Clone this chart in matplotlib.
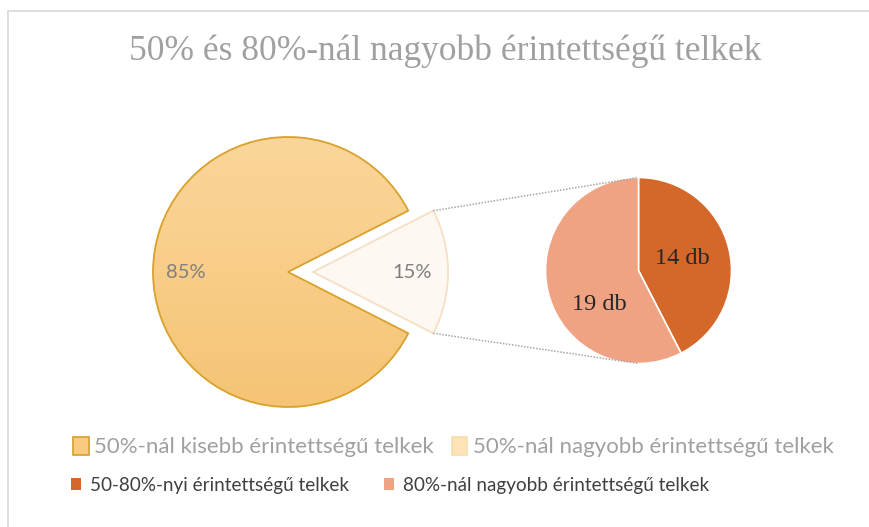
import numpy as np
import matplotlib
matplotlib.use("Agg")
import matplotlib.pyplot as plt
from matplotlib.patches import Patch, Rectangle
from matplotlib.colors import LinearSegmentedColormap

# ---- data ----
title = "50% és 80%-nál nagyobb érintettségű telkek"
main_labels = ["50%-nál kisebb érintettségű telkek", "50%-nál nagyobb érintettségű telkek"]
main_values = [85, 15]
sub_labels = ["50-80%-nyi érintettségű telkek", "80%-nál nagyobb érintettségű telkek"]
sub_values = [14, 19]
sub_unit = "db"

W, H = 869, 527
fig = plt.figure(figsize=(W / 100, H / 100), dpi=100)
ax = fig.add_axes([0, 0, 1, 1])
ax.set_xlim(0, W)
ax.set_ylim(0, H)
ax.set_aspect("equal")
ax.axis("off")

# chart frame
ax.add_patch(Rectangle((8, -5), W, H - 11 + 5, facecolor="white",
                       edgecolor="#D9D9D9", lw=1.2, zorder=0))

# ---- main pie ----
main_center = (288, 255)
main_r = 135
explode_px = 25
other_frac = main_values[1] / sum(main_values)
half = other_frac * 360 / 2
wedges, _ = ax.pie(main_values, radius=main_r, center=main_center,
                   startangle=half, counterclock=True,
                   explode=[0, explode_px],
                   colors=["#F8CC80", "#FDF8F2"],
                   wedgeprops=dict(linewidth=1.3), frame=True)
wedges[0].set_edgecolor("#D9A12C")
wedges[1].set_edgecolor("#F7DFC4")
wedges[0].set_facecolor("none")
wedges[0].set_zorder(3)

# vertical gradient inside the large slice
grad_cmap = LinearSegmentedColormap.from_list("g", ["#F5C475", "#FBD69A"])
grad = np.linspace(0, 1, 256).reshape(-1, 1)
cx, cy = main_center
im = ax.imshow(grad, extent=[cx - main_r, cx + main_r, cy - main_r, cy + main_r],
               origin="lower", cmap=grad_cmap, zorder=2, aspect="auto")
im.set_clip_path(wedges[0])

ax.text(186, H - 273, f"{main_values[0]}%", ha="center", va="center",
        fontsize=14.5, color="#7F7F7F", family="Lato", zorder=5)
ax.text(412, H - 273, f"{main_values[1]}%", ha="center", va="center",
        fontsize=14.5, color="#7F7F7F", family="Lato", zorder=5)

# ---- secondary pie ----
sub_center = (638.5, 256.5)
sub_r = 93
sw, _ = ax.pie(sub_values, radius=sub_r, center=sub_center,
               startangle=90, counterclock=False,
               colors=["#D4682B", "#F0A383"],
               wedgeprops=dict(edgecolor="white", linewidth=1.2), frame=True)

def polar(center, r, deg):
    a = np.deg2rad(deg)
    return center[0] + r * np.cos(a), center[1] + r * np.sin(a)

# label placement inside each slice (radius, angle in degrees)
label_pos = [(45, 15), (52, -139)]
for v, (lr, la) in zip(sub_values, label_pos):
    x, y = polar(sub_center, lr, la)
    ax.text(x, y, f"{v} {sub_unit}", ha="center", va="center", fontsize=17.5,
            color="#262626", family="Liberation Serif", zorder=5)

# connector lines from the exploded slice to the secondary pie
ex_center = (cx + explode_px, cy)
for sgn in (1, -1):
    x0, y0 = polar(ex_center, main_r, sgn * half)
    x1, y1 = sub_center[0], sub_center[1] + sgn * sub_r
    ax.plot([x0, x1], [y0, y1], color="#A6A6A6", lw=1.1,
            linestyle=(0, (1, 1)), zorder=1)

# ---- title ----
ax.text(445, H - 51, title, ha="center", va="center", fontsize=25.5,
        color="#A0A0A0", family="Liberation Serif")

# ---- legends ----
h1 = [Patch(facecolor="#F8CB7E", edgecolor="#D6A02A", lw=1.2),
      Patch(facecolor="#FDE4B8", edgecolor="#F9DCAA", lw=1.2)]
leg1 = ax.legend(h1, main_labels, loc="center left",
                 bbox_to_anchor=(73 / W, 1 - 447 / H), ncol=2, frameon=False,
                 prop=dict(family="Lato", size=16), labelcolor="#A0A0A0",
                 handlelength=0.7, handleheight=0.9, handletextpad=0.25,
                 columnspacing=0.8, borderaxespad=0, borderpad=0)
ax.add_artist(leg1)
h2 = [Patch(facecolor="#D4682B"), Patch(facecolor="#F0A383")]
leg2 = ax.legend(h2, sub_labels, loc="center left",
                 bbox_to_anchor=(71 / W, 1 - 485 / H), ncol=2, frameon=False,
                 prop=dict(family="Lato", size=13.6), labelcolor="#404040",
                 handlelength=0.55, handleheight=0.55, handletextpad=0.45,
                 columnspacing=1.85, borderaxespad=0, borderpad=0)

ax.set_xlim(0, W)
ax.set_ylim(0, H)
fig.savefig("out.png", dpi=100)
